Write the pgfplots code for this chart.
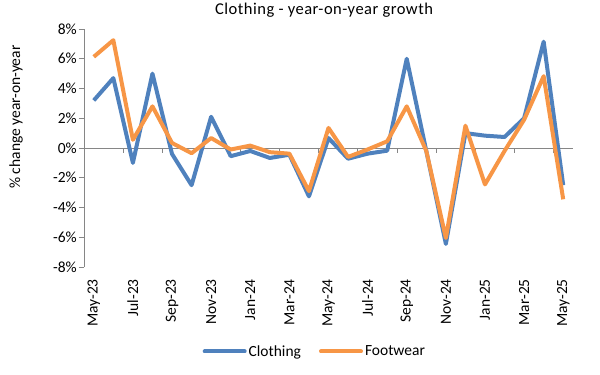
\documentclass[border=0pt]{standalone}
\usepackage{pgfplots}
\pgfplotsset{compat=1.18}
\usepackage{fontspec}
\setmainfont{Carlito}
\definecolor{cblue}{RGB}{79,129,189}
\definecolor{corange}{RGB}{247,150,70}
\definecolor{axgray}{RGB}{134,134,134}
\newcommand{\cf}{\fontsize{15.5}{18}\selectfont}
\begin{document}
\begin{tikzpicture}
\useasboundingbox (0pt,0pt) rectangle (600pt,375pt);
\begin{axis}[
  at={(84pt,108pt)}, anchor=south west,
  scale only axis, width=489pt, height=238pt,
  xmin=-0.5, xmax=24.5, ymin=-8, ymax=8,
  axis x line*=bottom, axis y line*=left,
  x axis line style={draw=none},
  y axis line style={draw=axgray, line width=0.8pt},
  xtick={0,2,...,24},
  xticklabels={May-23,Jul-23,Sep-23,Nov-23,Jan-24,Mar-24,May-24,Jul-24,Sep-24,Nov-24,Jan-25,Mar-25,May-25},
  x tick style={draw=none},
  major x tick style={draw=none},
  xticklabel style={rotate=90, anchor=east, font=\cf, inner xsep=7pt, inner ysep=2pt},
  ytick={-8,-6,...,8},
  yticklabel={\pgfmathprintnumber{\tick}\%},
  yticklabel style={font=\cf, inner sep=2pt},
  y tick style={draw=axgray, line width=0.8pt},
  tick align=outside, major tick length=5pt,
  /pgf/number format/assume math mode=true,
  ylabel={\% change year-on-year},
  ylabel style={at={(axis description cs:-0.139,0.63)}, anchor=center, font=\cf},
  title={\addfontfeature{LetterSpace=3}Clothing - year-on-year growth},
  title style={at={(axis description cs:0.491,1.054)}, anchor=center, font=\fontsize{16.5}{19}\selectfont},
  legend columns=2,
  legend style={draw=none, at={(0.472,-0.355)}, anchor=center, font=\cf,
    /tikz/every even column/.append style={column sep=16pt}},
  legend image code/.code={\draw[#1, line width=4pt, line cap=round] (0pt,0pt) -- (40pt,0pt);},
  clip=false,
]
\draw[axgray, line width=0.8pt] (axis cs:-0.5,0) -- (axis cs:24.5,0);
\pgfplotsinvokeforeach{1.5,3.5,...,23.5}{
  \draw[axgray, line width=0.8pt] (axis cs:#1,0) -- ([yshift=-5pt]axis cs:#1,0);
}
\addplot[cblue, line width=4pt, line join=round] coordinates {
(0,3.2) (1,4.7) (2,-1.0) (3,5.0) (4,-0.4) (5,-2.5) (6,2.1) (7,-0.55) (8,-0.2) (9,-0.67) (10,-0.45) (11,-3.25) (12,0.67) (13,-0.72) (14,-0.38) (15,-0.18) (16,6.0) (17,-0.2) (18,-6.45) (19,1.0) (20,0.83) (21,0.74) (22,2.0) (23,7.15) (24,-2.5)
};
\addlegendentry{Clothing}
\addplot[corange, line width=4pt, line join=round] coordinates {
(0,6.13) (1,7.25) (2,0.55) (3,2.8) (4,0.34) (5,-0.35) (6,0.67) (7,-0.1) (8,0.16) (9,-0.28) (10,-0.38) (11,-2.9) (12,1.35) (13,-0.6) (14,-0.1) (15,0.45) (16,2.8) (17,-0.2) (18,-6.05) (19,1.5) (20,-2.45) (21,-0.2) (22,1.9) (23,4.83) (24,-3.45)
};
\addlegendentry{Footwear}
\end{axis}
\end{tikzpicture}
\end{document}
